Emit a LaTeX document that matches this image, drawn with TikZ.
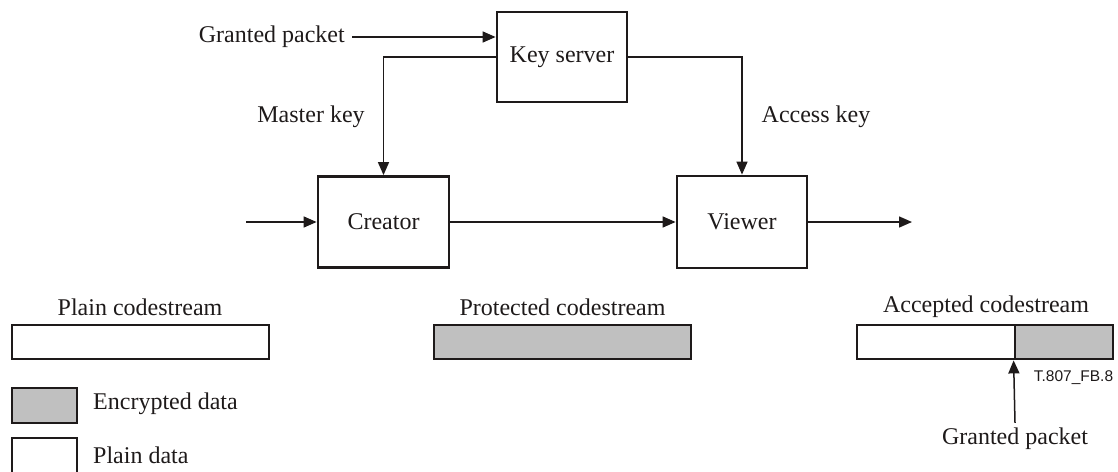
\documentclass[tikz,border=0pt]{standalone}
\usepackage{fontspec}
\setmainfont{Liberation Serif}
\newfontfamily\labelsans{Liberation Sans}
\usetikzlibrary{arrows.meta}
\definecolor{fillgray}{RGB}{192,192,192}
\definecolor{inkcol}{RGB}{30,26,26}
\begin{document}
\begin{tikzpicture}[x=1pt,y=-1pt,
  every node/.style={font=\fontsize{24}{28}\selectfont, text=inkcol},
  blockbox/.style={draw=inkcol, line width=2.8pt, fill=white, inner sep=0pt},
  conn/.style={draw=inkcol, line width=1.5pt},
  arr/.style={conn, -{Triangle[length=13pt,width=11pt]}},
  lbl/.style={inner sep=1pt}]
\useasboundingbox (0,0) rectangle (1118,471);
% main blocks
\node[blockbox, minimum width=130pt, minimum height=90pt] (ks) at (562,57) {Key server};
\node[blockbox, minimum width=131pt, minimum height=91pt] (cr) at (383.5,222) {Creator};
\node[blockbox, minimum width=130pt, minimum height=92pt] (vw) at (742,222) {Viewer};
% labels
\node[lbl, anchor=east] (gp1) at (346,37) {Granted packet};
\node[lbl] (mk) at (311,117) {Master key};
\node[lbl] (ak) at (816,117) {Access key};
\coordinate (in) at (246,222);
\coordinate (out) at (912,222);
% connectors
\draw[arr] ([xshift=6pt]gp1.east) -- (gp1.east -| ks.west);
\draw[arr] (ks.west) -| (cr.north);
\draw[arr] (ks.east) -| (vw.north);
\draw[arr] (in) -- (cr.west);
\draw[arr] (cr.east) -- (vw.west);
\draw[arr] (vw.east) -- (out);
% codestreams
\node[lbl] (pct) at (140,307) {Plain codestream};
\node[blockbox, minimum width=257pt, minimum height=34pt] (pcs) at (140.5,342) {};
\node[lbl] (prt) at (562.5,307) {Protected codestream};
\node[blockbox, fill=fillgray, minimum width=257pt, minimum height=34pt] (prs) at (562.5,342) {};
\node[lbl] (act) at (986,307) {Accepted codestream};
\node[blockbox, minimum width=158pt, minimum height=34pt] (acw) at (936,342) {};
\node[blockbox, fill=fillgray, minimum width=98pt, minimum height=34pt] (acg) at (1064,342) {};
\node[inner sep=0pt, font=\labelsans\fontsize{15.5}{18}\selectfont] (fig) at (1073.5,378) {T.807\_FB.8};
\node[lbl, inner sep=0pt] (gp2) at (1015,439) {Granted packet};
\draw[arr] ([yshift=5pt]gp2.north) -- (acg.south west);
% legend
\node[blockbox, fill=fillgray, minimum width=65pt, minimum height=35pt] (lge) at (44.5,405.5) {};
\node[lbl, anchor=west] (lgt) at (92,404) {Encrypted data};
\node[blockbox, minimum width=65pt, minimum height=36pt] (lpl) at (44.5,456) {};
\node[lbl, anchor=west] (lpt) at (92,455) {Plain data};
\end{tikzpicture}
\end{document}
